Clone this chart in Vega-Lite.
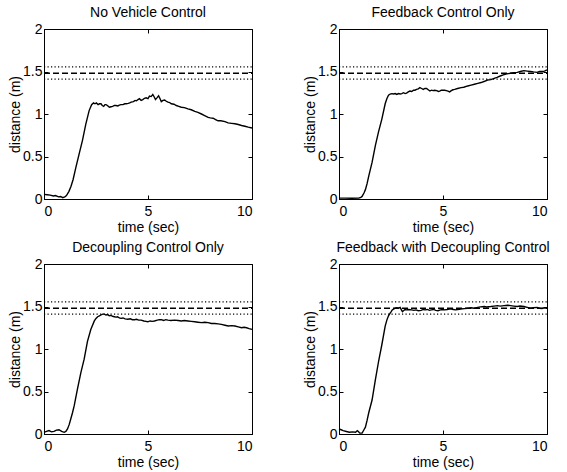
{
  "$schema": "https://vega.github.io/schema/vega-lite/v6.json",
  "background": "white",
  "padding": {"left": 8, "top": 5, "right": 5, "bottom": 2},
  "bounds": "flush",
  "columns": 2,
  "spacing": {"row": 65, "column": 87},
  "config": {
    "font": "Liberation Sans",
    "view": {"stroke": "black", "strokeWidth": 1},
    "axis": {
      "domainColor": "black", "domainWidth": 1,
      "tickColor": "black", "tickWidth": 1, "tickSize": -4,
      "labelColor": "black", "labelFont": "Liberation Sans", "labelFontSize": 14,
      "titleColor": "black", "titleFont": "Liberation Sans", "titleFontSize": 14, "titleFontWeight": "normal",
      "grid": false
    },
    "title": {"font": "Liberation Sans", "fontSize": 14, "fontWeight": "normal", "color": "black", "offset": 2}
  },
  "datasets": {
    "A": [
      {"t":0,"v":0.055},{"t":0.15,"v":0.05},{"t":0.3,"v":0.045},{"t":0.45,"v":0.035},{"t":0.55,"v":0.04},{"t":0.7,"v":0.025},{"t":0.8,"v":0.03},{"t":0.9,"v":0.016},{"t":1.0,"v":0.025},{"t":1.08,"v":0.04},
      {"t":1.2,"v":0.09},{"t":1.3,"v":0.15},{"t":1.4,"v":0.23},{"t":1.53,"v":0.37},{"t":1.69,"v":0.53},{"t":1.85,"v":0.69},{"t":2.01,"v":0.88},{"t":2.17,"v":1.04},{"t":2.29,"v":1.11},{"t":2.38,"v":1.13},
      {"t":2.45,"v":1.12},{"t":2.52,"v":1.13},{"t":2.6,"v":1.11},{"t":2.67,"v":1.12},{"t":2.74,"v":1.12},{"t":2.8,"v":1.10},{"t":2.87,"v":1.09},{"t":2.93,"v":1.11},{"t":2.98,"v":1.11},{"t":3.05,"v":1.10},
      {"t":3.14,"v":1.08},{"t":3.22,"v":1.085},{"t":3.3,"v":1.09},{"t":3.38,"v":1.10},{"t":3.46,"v":1.10},{"t":3.55,"v":1.095},{"t":3.62,"v":1.105},{"t":3.7,"v":1.11},{"t":3.8,"v":1.11},{"t":3.88,"v":1.12},
      {"t":3.95,"v":1.12},{"t":4.05,"v":1.125},{"t":4.12,"v":1.13},{"t":4.19,"v":1.14},{"t":4.3,"v":1.145},{"t":4.38,"v":1.16},{"t":4.45,"v":1.155},{"t":4.52,"v":1.17},{"t":4.59,"v":1.18},{"t":4.67,"v":1.16},
      {"t":4.75,"v":1.17},{"t":4.83,"v":1.185},{"t":4.91,"v":1.19},{"t":5.0,"v":1.18},{"t":5.07,"v":1.21},{"t":5.15,"v":1.205},{"t":5.23,"v":1.23},{"t":5.3,"v":1.20},{"t":5.36,"v":1.17},{"t":5.43,"v":1.19},
      {"t":5.51,"v":1.215},{"t":5.58,"v":1.18},{"t":5.64,"v":1.145},{"t":5.72,"v":1.16},{"t":5.8,"v":1.165},{"t":5.88,"v":1.15},{"t":5.96,"v":1.14},{"t":6.04,"v":1.135},{"t":6.12,"v":1.12},{"t":6.25,"v":1.115},
      {"t":6.36,"v":1.10},{"t":6.48,"v":1.09},{"t":6.6,"v":1.08},{"t":6.75,"v":1.075},{"t":6.92,"v":1.06},{"t":7.08,"v":1.05},{"t":7.25,"v":1.03},{"t":7.4,"v":1.02},{"t":7.57,"v":1.00},{"t":7.7,"v":0.985},
      {"t":7.89,"v":0.96},{"t":8.0,"v":0.955},{"t":8.13,"v":0.95},{"t":8.25,"v":0.935},{"t":8.37,"v":0.92},{"t":8.5,"v":0.92},{"t":8.7,"v":0.91},{"t":8.85,"v":0.895},{"t":9.02,"v":0.89},{"t":9.18,"v":0.885},
      {"t":9.34,"v":0.876},{"t":9.5,"v":0.865},{"t":9.66,"v":0.856},{"t":9.82,"v":0.845},{"t":10.0,"v":0.836}
    ],
    "B": [
      {"t":0,"v":0.01},{"t":0.3,"v":0.01},{"t":0.6,"v":0.008},{"t":0.95,"v":0.01},{"t":1.05,"v":0.02},{"t":1.11,"v":0.03},{"t":1.2,"v":0.07},{"t":1.27,"v":0.11},{"t":1.35,"v":0.18},{"t":1.43,"v":0.27},
      {"t":1.59,"v":0.43},{"t":1.75,"v":0.63},{"t":1.9,"v":0.79},{"t":2.06,"v":0.94},{"t":2.22,"v":1.12},{"t":2.3,"v":1.18},{"t":2.38,"v":1.22},{"t":2.46,"v":1.235},{"t":2.54,"v":1.24},{"t":2.62,"v":1.235},
      {"t":2.7,"v":1.24},{"t":2.78,"v":1.23},{"t":2.86,"v":1.24},{"t":2.94,"v":1.235},{"t":3.02,"v":1.24},{"t":3.1,"v":1.25},{"t":3.18,"v":1.24},{"t":3.25,"v":1.245},{"t":3.33,"v":1.26},{"t":3.41,"v":1.27},
      {"t":3.5,"v":1.265},{"t":3.58,"v":1.28},{"t":3.65,"v":1.28},{"t":3.73,"v":1.29},{"t":3.81,"v":1.295},{"t":3.89,"v":1.31},{"t":3.97,"v":1.30},{"t":4.05,"v":1.29},{"t":4.13,"v":1.30},{"t":4.21,"v":1.30},
      {"t":4.29,"v":1.285},{"t":4.37,"v":1.27},{"t":4.45,"v":1.28},{"t":4.52,"v":1.275},{"t":4.6,"v":1.28},{"t":4.7,"v":1.275},{"t":4.78,"v":1.265},{"t":4.84,"v":1.27},{"t":4.92,"v":1.28},{"t":5.0,"v":1.28},
      {"t":5.08,"v":1.28},{"t":5.16,"v":1.275},{"t":5.24,"v":1.27},{"t":5.32,"v":1.26},{"t":5.4,"v":1.275},{"t":5.48,"v":1.285},{"t":5.56,"v":1.29},{"t":5.7,"v":1.30},{"t":5.87,"v":1.31},{"t":6.0,"v":1.315},
      {"t":6.19,"v":1.33},{"t":6.35,"v":1.34},{"t":6.51,"v":1.35},{"t":6.67,"v":1.36},{"t":6.83,"v":1.37},{"t":7.0,"v":1.385},{"t":7.14,"v":1.40},{"t":7.3,"v":1.405},{"t":7.46,"v":1.42},{"t":7.6,"v":1.43},
      {"t":7.78,"v":1.45},{"t":7.9,"v":1.46},{"t":8.02,"v":1.47},{"t":8.14,"v":1.475},{"t":8.25,"v":1.48},{"t":8.4,"v":1.485},{"t":8.57,"v":1.49},{"t":8.72,"v":1.50},{"t":8.89,"v":1.51},{"t":9.05,"v":1.505},
      {"t":9.21,"v":1.50},{"t":9.35,"v":1.495},{"t":9.52,"v":1.49},{"t":9.64,"v":1.50},{"t":9.76,"v":1.50},{"t":9.88,"v":1.505},{"t":10.0,"v":1.52}
    ],
    "C": [
      {"t":0,"v":0.02},{"t":0.12,"v":0.03},{"t":0.24,"v":0.04},{"t":0.36,"v":0.025},{"t":0.48,"v":0.03},{"t":0.6,"v":0.045},{"t":0.72,"v":0.05},{"t":0.85,"v":0.03},{"t":0.97,"v":0.02},{"t":1.05,"v":0.03},
      {"t":1.13,"v":0.06},{"t":1.21,"v":0.11},{"t":1.29,"v":0.18},{"t":1.37,"v":0.25},{"t":1.45,"v":0.33},{"t":1.61,"v":0.53},{"t":1.77,"v":0.72},{"t":1.93,"v":0.88},{"t":2.09,"v":1.09},{"t":2.25,"v":1.23},
      {"t":2.42,"v":1.33},{"t":2.5,"v":1.36},{"t":2.58,"v":1.38},{"t":2.66,"v":1.39},{"t":2.74,"v":1.40},{"t":2.82,"v":1.41},{"t":2.9,"v":1.41},{"t":2.98,"v":1.40},{"t":3.06,"v":1.405},{"t":3.14,"v":1.39},
      {"t":3.22,"v":1.395},{"t":3.3,"v":1.385},{"t":3.38,"v":1.38},{"t":3.46,"v":1.375},{"t":3.54,"v":1.38},{"t":3.62,"v":1.365},{"t":3.7,"v":1.36},{"t":3.8,"v":1.365},{"t":3.9,"v":1.355},{"t":4.03,"v":1.35},
      {"t":4.15,"v":1.355},{"t":4.25,"v":1.345},{"t":4.35,"v":1.345},{"t":4.45,"v":1.35},{"t":4.55,"v":1.34},{"t":4.67,"v":1.34},{"t":4.8,"v":1.33},{"t":4.9,"v":1.325},{"t":4.99,"v":1.32},{"t":5.1,"v":1.33},
      {"t":5.2,"v":1.325},{"t":5.31,"v":1.33},{"t":5.45,"v":1.34},{"t":5.55,"v":1.345},{"t":5.64,"v":1.345},{"t":5.75,"v":1.335},{"t":5.85,"v":1.345},{"t":5.96,"v":1.34},{"t":6.1,"v":1.335},{"t":6.28,"v":1.34},
      {"t":6.45,"v":1.335},{"t":6.6,"v":1.33},{"t":6.75,"v":1.335},{"t":6.92,"v":1.33},{"t":7.08,"v":1.325},{"t":7.25,"v":1.32},{"t":7.4,"v":1.315},{"t":7.57,"v":1.31},{"t":7.73,"v":1.315},{"t":7.89,"v":1.31},
      {"t":8.05,"v":1.30},{"t":8.21,"v":1.30},{"t":8.37,"v":1.295},{"t":8.53,"v":1.29},{"t":8.7,"v":1.28},{"t":8.86,"v":1.27},{"t":9.02,"v":1.275},{"t":9.18,"v":1.27},{"t":9.34,"v":1.26},{"t":9.5,"v":1.25},
      {"t":9.62,"v":1.255},{"t":9.74,"v":1.25},{"t":9.86,"v":1.24},{"t":10.0,"v":1.23}
    ],
    "D": [
      {"t":0,"v":0.06},{"t":0.1,"v":0.05},{"t":0.2,"v":0.04},{"t":0.35,"v":0.03},{"t":0.5,"v":0.02},{"t":0.65,"v":0.025},{"t":0.8,"v":0.02},{"t":0.88,"v":0.04},{"t":0.93,"v":0.03},{"t":1.0,"v":0.01},
      {"t":1.11,"v":0.01},{"t":1.2,"v":0.05},{"t":1.27,"v":0.08},{"t":1.35,"v":0.16},{"t":1.43,"v":0.25},{"t":1.59,"v":0.40},{"t":1.75,"v":0.64},{"t":1.9,"v":0.85},{"t":2.06,"v":1.05},{"t":2.22,"v":1.27},
      {"t":2.3,"v":1.34},{"t":2.38,"v":1.39},{"t":2.45,"v":1.42},{"t":2.51,"v":1.44},{"t":2.56,"v":1.46},{"t":2.62,"v":1.47},{"t":2.7,"v":1.48},{"t":2.78,"v":1.485},{"t":2.86,"v":1.48},{"t":2.94,"v":1.49},
      {"t":3.0,"v":1.46},{"t":3.05,"v":1.44},{"t":3.1,"v":1.45},{"t":3.17,"v":1.465},{"t":3.25,"v":1.46},{"t":3.35,"v":1.465},{"t":3.49,"v":1.46},{"t":3.6,"v":1.455},{"t":3.7,"v":1.46},{"t":3.81,"v":1.45},
      {"t":3.95,"v":1.455},{"t":4.05,"v":1.465},{"t":4.13,"v":1.46},{"t":4.25,"v":1.465},{"t":4.35,"v":1.455},{"t":4.44,"v":1.46},{"t":4.55,"v":1.465},{"t":4.65,"v":1.455},{"t":4.76,"v":1.45},{"t":4.88,"v":1.46},
      {"t":5.0,"v":1.465},{"t":5.08,"v":1.46},{"t":5.2,"v":1.465},{"t":5.3,"v":1.47},{"t":5.4,"v":1.47},{"t":5.5,"v":1.465},{"t":5.6,"v":1.46},{"t":5.71,"v":1.465},{"t":5.85,"v":1.47},{"t":6.03,"v":1.475},
      {"t":6.2,"v":1.48},{"t":6.35,"v":1.485},{"t":6.5,"v":1.48},{"t":6.67,"v":1.49},{"t":6.8,"v":1.495},{"t":6.98,"v":1.50},{"t":7.1,"v":1.495},{"t":7.3,"v":1.50},{"t":7.45,"v":1.505},{"t":7.62,"v":1.51},
      {"t":7.75,"v":1.505},{"t":7.94,"v":1.51},{"t":8.1,"v":1.515},{"t":8.25,"v":1.51},{"t":8.4,"v":1.505},{"t":8.57,"v":1.50},{"t":8.7,"v":1.505},{"t":8.89,"v":1.50},{"t":9.05,"v":1.49},{"t":9.21,"v":1.48},
      {"t":9.35,"v":1.485},{"t":9.52,"v":1.49},{"t":9.65,"v":1.48},{"t":9.76,"v":1.475},{"t":9.88,"v":1.485},{"t":10.0,"v":1.48}
    ],
    "refs": [
      {"id":"upper","style":"dot","t":0,"v":1.555},{"id":"upper","style":"dot","t":10,"v":1.555},
      {"id":"target","style":"dash","t":0,"v":1.48},{"id":"target","style":"dash","t":10,"v":1.48},
      {"id":"lower","style":"dot","t":0,"v":1.41},{"id":"lower","style":"dot","t":10,"v":1.41}
    ]
  },
  "concat": [
    {
      "title": "No Vehicle Control",
      "width": 208, "height": 170,
      "layer": [
        {"data": {"name": "A"}, "mark": {"type": "line", "color": "black", "strokeWidth": 1.4},
         "encoding": {
           "x": {"field": "t", "type": "quantitative", "scale": {"domain": [0, 10], "nice": false}, "axis": {"values": [0, 5, 10], "title": "time (sec)", "labelPadding": 9, "titlePadding": 2}},
           "y": {"field": "v", "type": "quantitative", "scale": {"domain": [0, 2], "nice": false}, "axis": {"values": [0, 0.5, 1, 1.5, 2], "format": "~g", "title": "distance (m)", "labelPadding": 6, "titlePadding": 0}}}},
        {"data": {"name": "refs"}, "mark": {"type": "line"},
         "encoding": {
           "x": {"field": "t", "type": "quantitative", "axis": {"orient": "top", "values": [0, 5, 10], "labels": false, "title": null, "domain": false}},
           "y": {"field": "v", "type": "quantitative", "axis": {"orient": "right", "values": [0, 0.5, 1, 1.5, 2], "labels": false, "title": null, "domain": false}},
           "detail": {"field": "id"},
           "color": {"value": "black"},
           "strokeDash": {"field": "style", "type": "nominal", "scale": {"domain": ["dash", "dot"], "range": [[6, 3], [1.2, 2.3]]}, "legend": null},
           "strokeWidth": {"field": "style", "type": "nominal", "scale": {"domain": ["dash", "dot"], "range": [1.6, 1.1]}, "legend": null}}}
      ],
      "resolve": {"axis": {"x": "independent", "y": "independent"}}
    },
    {
      "title": "Feedback Control Only",
      "width": 208, "height": 170,
      "layer": [
        {"data": {"name": "B"}, "mark": {"type": "line", "color": "black", "strokeWidth": 1.4},
         "encoding": {
           "x": {"field": "t", "type": "quantitative", "scale": {"domain": [0, 10], "nice": false}, "axis": {"values": [0, 5, 10], "title": "time (sec)", "labelPadding": 9, "titlePadding": 2}},
           "y": {"field": "v", "type": "quantitative", "scale": {"domain": [0, 2], "nice": false}, "axis": {"values": [0, 0.5, 1, 1.5, 2], "format": "~g", "title": "distance (m)", "labelPadding": 6, "titlePadding": 0}}}},
        {"data": {"name": "refs"}, "mark": {"type": "line"},
         "encoding": {
           "x": {"field": "t", "type": "quantitative", "axis": {"orient": "top", "values": [0, 5, 10], "labels": false, "title": null, "domain": false}},
           "y": {"field": "v", "type": "quantitative", "axis": {"orient": "right", "values": [0, 0.5, 1, 1.5, 2], "labels": false, "title": null, "domain": false}},
           "detail": {"field": "id"},
           "color": {"value": "black"},
           "strokeDash": {"field": "style", "type": "nominal", "scale": {"domain": ["dash", "dot"], "range": [[6, 3], [1.2, 2.3]]}, "legend": null},
           "strokeWidth": {"field": "style", "type": "nominal", "scale": {"domain": ["dash", "dot"], "range": [1.6, 1.1]}, "legend": null}}}
      ],
      "resolve": {"axis": {"x": "independent", "y": "independent"}}
    },
    {
      "title": "Decoupling Control Only",
      "width": 208, "height": 170,
      "layer": [
        {"data": {"name": "C"}, "mark": {"type": "line", "color": "black", "strokeWidth": 1.4},
         "encoding": {
           "x": {"field": "t", "type": "quantitative", "scale": {"domain": [0, 10], "nice": false}, "axis": {"values": [0, 5, 10], "title": "time (sec)", "labelPadding": 9, "titlePadding": 2}},
           "y": {"field": "v", "type": "quantitative", "scale": {"domain": [0, 2], "nice": false}, "axis": {"values": [0, 0.5, 1, 1.5, 2], "format": "~g", "title": "distance (m)", "labelPadding": 6, "titlePadding": 0}}}},
        {"data": {"name": "refs"}, "mark": {"type": "line"},
         "encoding": {
           "x": {"field": "t", "type": "quantitative", "axis": {"orient": "top", "values": [0, 5, 10], "labels": false, "title": null, "domain": false}},
           "y": {"field": "v", "type": "quantitative", "axis": {"orient": "right", "values": [0, 0.5, 1, 1.5, 2], "labels": false, "title": null, "domain": false}},
           "detail": {"field": "id"},
           "color": {"value": "black"},
           "strokeDash": {"field": "style", "type": "nominal", "scale": {"domain": ["dash", "dot"], "range": [[6, 3], [1.2, 2.3]]}, "legend": null},
           "strokeWidth": {"field": "style", "type": "nominal", "scale": {"domain": ["dash", "dot"], "range": [1.6, 1.1]}, "legend": null}}}
      ],
      "resolve": {"axis": {"x": "independent", "y": "independent"}}
    },
    {
      "title": "Feedback with Decoupling Control",
      "width": 208, "height": 170,
      "layer": [
        {"data": {"name": "D"}, "mark": {"type": "line", "color": "black", "strokeWidth": 1.4},
         "encoding": {
           "x": {"field": "t", "type": "quantitative", "scale": {"domain": [0, 10], "nice": false}, "axis": {"values": [0, 5, 10], "title": "time (sec)", "labelPadding": 9, "titlePadding": 2}},
           "y": {"field": "v", "type": "quantitative", "scale": {"domain": [0, 2], "nice": false}, "axis": {"values": [0, 0.5, 1, 1.5, 2], "format": "~g", "title": "distance (m)", "labelPadding": 6, "titlePadding": 0}}}},
        {"data": {"name": "refs"}, "mark": {"type": "line"},
         "encoding": {
           "x": {"field": "t", "type": "quantitative", "axis": {"orient": "top", "values": [0, 5, 10], "labels": false, "title": null, "domain": false}},
           "y": {"field": "v", "type": "quantitative", "axis": {"orient": "right", "values": [0, 0.5, 1, 1.5, 2], "labels": false, "title": null, "domain": false}},
           "detail": {"field": "id"},
           "color": {"value": "black"},
           "strokeDash": {"field": "style", "type": "nominal", "scale": {"domain": ["dash", "dot"], "range": [[6, 3], [1.2, 2.3]]}, "legend": null},
           "strokeWidth": {"field": "style", "type": "nominal", "scale": {"domain": ["dash", "dot"], "range": [1.6, 1.1]}, "legend": null}}}
      ],
      "resolve": {"axis": {"x": "independent", "y": "independent"}}
    }
  ]
}
